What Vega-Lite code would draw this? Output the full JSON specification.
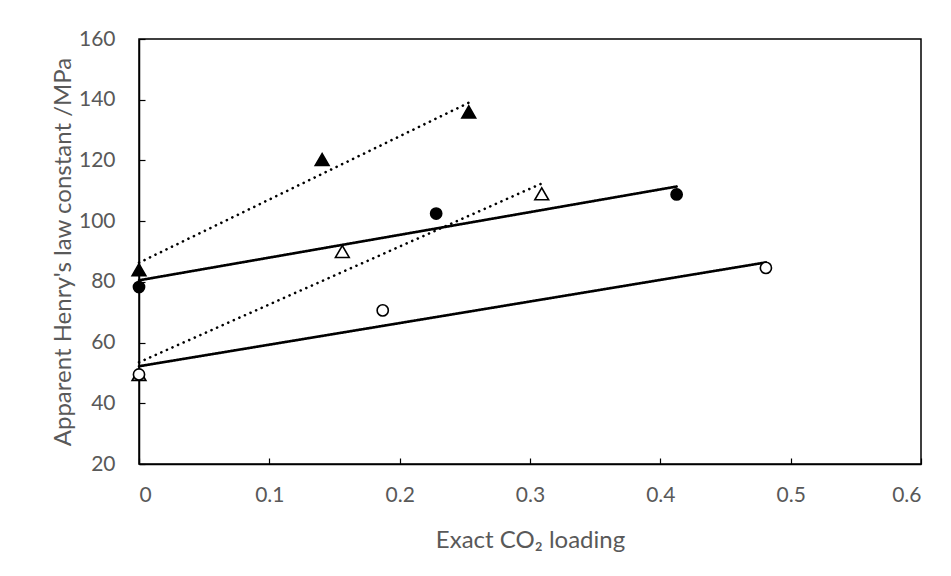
{
  "$schema": "https://vega.github.io/schema/vega-lite/v6.json",
  "width": 782,
  "height": 425,
  "autosize": {"type": "none"},
  "padding": {"left": 139, "top": 39, "right": 30, "bottom": 112},
  "background": "white",
  "config": {
    "font": "Lato",
    "view": {"stroke": "black", "strokeWidth": 1.5},
    "axis": {
      "grid": false,
      "domainColor": "black",
      "domainWidth": 1.5,
      "tickColor": "black",
      "tickWidth": 1.2,
      "tickSize": -6,
      "labelFont": "Lato",
      "labelFontSize": 21,
      "labelColor": "#595959",
      "titleFont": "Lato",
      "titleFontSize": 24,
      "titleFontWeight": "normal",
      "titleColor": "#595959"
    }
  },
  "datasets": {
    "points": [
      {"series": "A", "marker": "triangle", "fill": "filled", "loading": 0, "H": 84},
      {"series": "A", "marker": "triangle", "fill": "filled", "loading": 0.1405, "H": 120.3},
      {"series": "A", "marker": "triangle", "fill": "filled", "loading": 0.253, "H": 136},
      {"series": "B", "marker": "circle", "fill": "filled", "loading": 0, "H": 78.3},
      {"series": "B", "marker": "circle", "fill": "filled", "loading": 0.228, "H": 102.5},
      {"series": "B", "marker": "circle", "fill": "filled", "loading": 0.4125, "H": 108.8},
      {"series": "C", "marker": "triangle", "fill": "open", "loading": 0, "H": 49.5},
      {"series": "C", "marker": "triangle", "fill": "open", "loading": 0.156, "H": 90},
      {"series": "C", "marker": "triangle", "fill": "open", "loading": 0.309, "H": 109},
      {"series": "D", "marker": "circle", "fill": "open", "loading": 0, "H": 49.5},
      {"series": "D", "marker": "circle", "fill": "open", "loading": 0.187, "H": 70.6},
      {"series": "D", "marker": "circle", "fill": "open", "loading": 0.481, "H": 84.6}
    ],
    "fits": [
      {"series": "A", "style": "dotted", "loading": 0, "H": 86.3},
      {"series": "A", "style": "dotted", "loading": 0.253, "H": 139},
      {"series": "B", "style": "solid", "loading": 0, "H": 80.5},
      {"series": "B", "style": "solid", "loading": 0.4125, "H": 111.4},
      {"series": "C", "style": "dotted", "loading": 0, "H": 53.5},
      {"series": "C", "style": "dotted", "loading": 0.309, "H": 112.4},
      {"series": "D", "style": "solid", "loading": 0, "H": 52.2},
      {"series": "D", "style": "solid", "loading": 0.481, "H": 86.4}
    ]
  },
  "encoding": {
    "x": {
      "field": "loading",
      "type": "quantitative",
      "scale": {"domain": [0, 0.6], "nice": false, "zero": false},
      "axis": {
        "title": "Exact CO₂ loading",
        "values": [0, 0.1, 0.2, 0.3, 0.4, 0.5, 0.6],
        "format": "~g",
        "labelPadding": 26,
        "titlePadding": 23
      }
    },
    "y": {
      "field": "H",
      "type": "quantitative",
      "scale": {"domain": [20, 160], "nice": false, "zero": false},
      "axis": {
        "title": "Apparent Henry's law constant /MPa",
        "values": [20, 40, 60, 80, 100, 120, 140, 160],
        "labelPadding": 30,
        "titlePadding": 3
      }
    }
  },
  "layer": [
    {
      "data": {"name": "fits"},
      "mark": {"type": "line", "strokeWidth": 2.6, "strokeCap": "round", "color": "black"},
      "encoding": {
        "detail": {"field": "series"},
        "strokeDash": {
          "field": "style",
          "type": "nominal",
          "scale": {"domain": ["solid", "dotted"], "range": [[1, 0], [0.1, 6]]},
          "legend": null
        }
      }
    },
    {
      "data": {"name": "points"},
      "transform": [{"filter": "datum.marker == 'triangle'"}],
      "mark": {"type": "point", "shape": "triangle-up", "size": 190, "stroke": "black", "strokeWidth": 1.6, "filled": true, "opacity": 1},
      "encoding": {
        "fill": {
          "field": "fill",
          "type": "nominal",
          "scale": {"domain": ["filled", "open"], "range": ["black", "white"]},
          "legend": null
        }
      }
    },
    {
      "data": {"name": "points"},
      "transform": [{"filter": "datum.marker == 'circle'"}],
      "mark": {"type": "point", "shape": "circle", "size": 125, "stroke": "black", "strokeWidth": 1.6, "filled": true, "opacity": 1},
      "encoding": {
        "fill": {
          "field": "fill",
          "type": "nominal",
          "scale": {"domain": ["filled", "open"], "range": ["black", "white"]},
          "legend": null
        }
      }
    }
  ]
}
